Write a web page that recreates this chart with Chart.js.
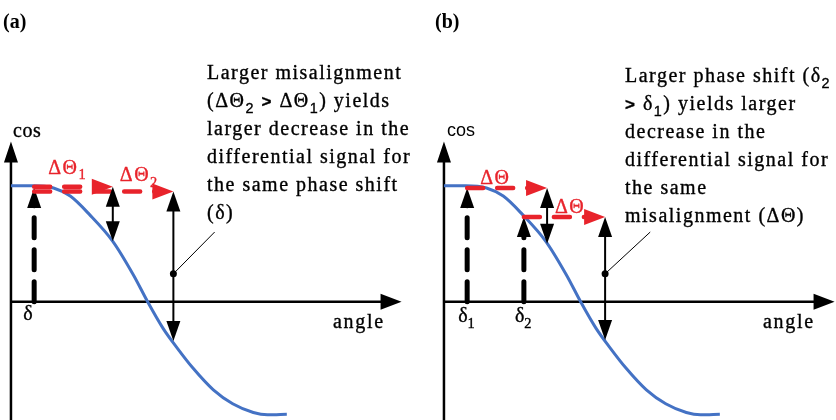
<!DOCTYPE html>
<html lang="en">
<head>
<meta charset="UTF-8">
<title>Phase shift and misalignment</title>
<script src="https://cdn.jsdelivr.net/npm/chart.js"></script>
<style>
    body { margin: 0; background: #fff; width: 836px; height: 420px; position: relative; overflow: hidden; }
    canvas { position: absolute; top: 0; }
    #chartA { left: 0; }
    #chartB { left: 433px; }
</style>
</head>
<body>
<canvas id="chartA" width="433" height="420"></canvas>
<canvas id="chartB" width="403" height="420"></canvas>
<script>
// cosine curve: angle in degrees, signal in cos units
const curveAngle = [0, 17, 33, 46, 61, 79, 95, 106, 118, 129, 141, 157, 172, 188, 199, 214];
const curveCos   = [1.0, 1.0, 0.98, 0.91, 0.75, 0.52, 0.23, 0.0, -0.23, -0.40, -0.57, -0.76, -0.88, -0.955, -0.975, -0.97];

// axis extents
const axisTop = 1.38;
const axisEnd = 303;

// (a) one phase shift, two misalignments
const phaseA = 18;                    // δ
const phaseLevelA = 0.98;
const misalignEndA = [79, 126];       // ends of ΔΘ1, ΔΘ2
const misalignLevelA = [0.99, 0.95];
const signalEndA = [0.52, -0.34];

// (b) two phase shifts, one misalignment
const phaseB = [18, 62];              // δ1, δ2
const phaseLevelB = [0.98, 0.73];
const misalignEndB = [80, 125];
const signalEndB = [0.50, -0.33];

const dotLevel = 0.24;

const RED = '#e8232b', BLUE = '#4472c4', INK = '#000';
const SERIF = '"Liberation Serif", "Times New Roman", serif';
const SANS = '"Liberation Sans", Arial, sans-serif';

function P(chart, x, y) {
    return { x: chart.scales.x.getPixelForValue(x), y: chart.scales.y.getPixelForValue(y) };
}

function tri(ctx, tip, ux, uy, len, half, color) {
    const bx = tip.x - ux * len, by = tip.y - uy * len;
    ctx.beginPath();
    ctx.moveTo(tip.x, tip.y);
    ctx.lineTo(bx - uy * half, by + ux * half);
    ctx.lineTo(bx + uy * half, by - ux * half);
    ctx.closePath();
    ctx.fillStyle = color;
    ctx.fill();
}

function arrow(ctx, a, b, o) {
    const L = Math.hypot(b.x - a.x, b.y - a.y), ux = (b.x - a.x) / L, uy = (b.y - a.y) / L;
    const len = o.len || 20, half = o.half || 7;
    const s = o.both ? len * 0.8 : 0, e = len * 0.8;
    ctx.save();
    ctx.strokeStyle = o.color;
    ctx.lineWidth = o.width;
    ctx.lineCap = o.cap || 'butt';
    ctx.setLineDash(o.dash || []);
    ctx.beginPath();
    ctx.moveTo(a.x + ux * s, a.y + uy * s);
    ctx.lineTo(b.x - ux * e, b.y - uy * e);
    ctx.stroke();
    ctx.restore();
    tri(ctx, b, ux, uy, len, half, o.color);
    if (o.both) tri(ctx, a, -ux, -uy, len, half, o.color);
}

// text made of runs: [text, kind]; kind r = serif, s = sans, sub / ssub = subscripts
function rich(ctx, x, y, parts, size, color, spacing) {
    ctx.save();
    ctx.fillStyle = color || INK;
    ctx.strokeStyle = color || INK;
    ctx.lineWidth = 0.35;
    ctx.textBaseline = 'alphabetic';
    ctx.letterSpacing = (spacing === undefined ? 1.5 : spacing) + 'px';
    for (const [t, k] of parts) {
        let fs = size, dy = 0, fam = SERIF, w = '';
        if (k === 's' || k === 'ssub') fam = SANS;
        if (k === 's') { fs = size * 0.85; w = 'bold '; }
        if (k === 'sub' || k === 'ssub') { fs = size * 0.72; dy = size * 0.28; }
        ctx.font = w + fs + 'px ' + fam;
        ctx.fillText(t, x, y + dy);
        ctx.strokeText(t, x, y + dy);
        x += ctx.measureText(t).width;
    }
    ctx.restore();
}

function paragraph(ctx, x, y, lines) {
    lines.forEach((parts, i) => rich(ctx, x, y + i * 28, parts, 20));
}

function dashedPhase(ctx, chart, x, level) {
    arrow(ctx, P(chart, x, 0), P(chart, x, level),
        { color: INK, width: 5, dash: [20, 12], cap: 'round', len: 20, half: 7 });
}
function redShift(ctx, chart, x1, x2, level) {
    arrow(ctx, P(chart, x1, level), P(chart, x2, level),
        { color: RED, width: 4.5, dash: [16, 14], cap: 'round', len: 21, half: 8 });
}
function signal(ctx, chart, x, top, bottom) {
    arrow(ctx, P(chart, x, top), P(chart, x, bottom),
        { color: INK, width: 2, both: true, len: 20, half: 7 });
}

const axesPlugin = {
    id: 'axes',
    beforeDatasetsDraw(chart) {
        const ctx = chart.ctx;
        arrow(ctx, P(chart, 0, chart.scales.y.min), P(chart, 0, axisTop), { color: INK, width: 2.5, len: 21, half: 7 });
        arrow(ctx, P(chart, 0, 0), P(chart, axisEnd, 0), { color: INK, width: 2.5, len: 21, half: 8 });
    }
};

function leader(ctx, chart, x, y1, x2, y2) {
    const a = P(chart, x, y1), b = P(chart, x2, y2);
    ctx.save();
    ctx.strokeStyle = INK;
    ctx.lineWidth = 1;
    ctx.beginPath(); ctx.moveTo(a.x, a.y); ctx.lineTo(b.x, b.y); ctx.stroke();
    ctx.beginPath(); ctx.arc(a.x, a.y, 3.5, 0, Math.PI * 2); ctx.fillStyle = INK; ctx.fill();
    ctx.restore();
}

const marksA = {
    id: 'marksA',
    afterDatasetsDraw(chart) {
        const ctx = chart.ctx;
        dashedPhase(ctx, chart, phaseA, phaseLevelA);
        redShift(ctx, chart, phaseA, misalignEndA[0], misalignLevelA[0]);
        redShift(ctx, chart, phaseA, misalignEndA[1], misalignLevelA[1]);
        signal(ctx, chart, misalignEndA[0], misalignLevelA[0], signalEndA[0]);
        signal(ctx, chart, misalignEndA[1], misalignLevelA[1], signalEndA[1]);
        leader(ctx, chart, misalignEndA[1], dotLevel, 158, 0.60);

        const l1 = P(chart, phaseA, misalignLevelA[0]);
        rich(ctx, l1.x + 14, l1.y - 13, [['ΔΘ', 'r'], ['1', 'sub']], 20, RED);
        const l2 = P(chart, misalignEndA[0], misalignLevelA[1]);
        rich(ctx, l2.x + 7, l2.y - 10, [['ΔΘ', 'r'], ['2', 'sub']], 20, RED);

        const d = P(chart, phaseA, 0);
        rich(ctx, d.x - 11, 320, [['δ', 'r']], 20, INK, 0);
        rich(ctx, 333, 328, [['angle', 'r']], 20, INK, 1.7);
        rich(ctx, 13, 137, [['cos', 'r']], 20, INK, 0.5);

        ctx.save();
        ctx.font = 'bold 20px ' + SERIF;
        ctx.fillStyle = INK;
        ctx.fillText('(a)', 3, 28);
        ctx.restore();

        paragraph(ctx, 207, 79, [
            [['Larger misalignment', 'r']],
            [['(ΔΘ', 'r'], ['2', 'ssub'], [' ', 'r'], ['>', 's'], [' ΔΘ', 'r'], ['1', 'ssub'], [') yields', 'r']],
            [['larger decrease in the', 'r']],
            [['differential signal for', 'r']],
            [['the same phase shift', 'r']],
            [['(δ)', 'r']]
        ]);
    }
};

// horizontal offset of each ΔΘ label from the start of its arrow
const labelShiftB = [13, 31];

const marksB = {
    id: 'marksB',
    afterDatasetsDraw(chart) {
        const ctx = chart.ctx;
        dashedPhase(ctx, chart, phaseB[0], phaseLevelB[0]);
        dashedPhase(ctx, chart, phaseB[1], phaseLevelB[1]);
        redShift(ctx, chart, phaseB[0], misalignEndB[0], phaseLevelB[0]);
        redShift(ctx, chart, phaseB[1], misalignEndB[1], phaseLevelB[1]);
        signal(ctx, chart, misalignEndB[0], phaseLevelB[0], signalEndB[0]);
        signal(ctx, chart, misalignEndB[1], phaseLevelB[1], signalEndB[1]);
        leader(ctx, chart, misalignEndB[1], dotLevel, 160, 0.60);

        phaseB.forEach((ph, i) => {
            const s = P(chart, ph, phaseLevelB[i]);
            rich(ctx, s.x + labelShiftB[i], s.y - 4, [['ΔΘ', 'r']], 20, RED);
            const d = P(chart, ph, 0);
            rich(ctx, d.x - 9, 322, [['δ', 'r'], [String(i + 1), 'sub']], 20, INK, 0);
        });
        rich(ctx, 330, 328, [['angle', 'r']], 20, INK, 1.7);

        ctx.save();
        ctx.font = '18px ' + SANS;
        ctx.fillStyle = INK;
        ctx.fillText('cos', 14, 136);
        ctx.font = 'bold 20px ' + SERIF;
        ctx.fillText('(b)', 2, 28);
        ctx.restore();

        paragraph(ctx, 192, 82, [
            [['Larger phase shift (δ', 'r'], ['2', 'ssub']],
            [['>', 's'], [' δ', 'r'], ['1', 'ssub'], [') yields larger', 'r']],
            [['decrease in the', 'r']],
            [['differential signal for', 'r']],
            [['the same', 'r']],
            [['misalignment (ΔΘ)', 'r']]
        ]);
    }
};

function makeChart(id, xMax, marks) {
    return new Chart(document.getElementById(id), {
        type: 'scatter',
        data: {
            datasets: [{
                data: curveAngle.map((a, i) => ({ x: a, y: curveCos[i] })),
                showLine: true,
                borderColor: BLUE,
                borderWidth: 3,
                pointRadius: 0,
                cubicInterpolationMode: 'monotone'
            }]
        },
        options: {
            responsive: false,
            animation: false,
            devicePixelRatio: 1,
            layout: { padding: 0 },
            plugins: { legend: { display: false }, tooltip: { enabled: false } },
            scales: {
                x: { type: 'linear', display: false, min: -8.5, max: xMax },
                y: { type: 'linear', display: false, min: -1.02, max: 2.6 }
            }
        },
        plugins: [axesPlugin, marks]
    });
}

makeChart('chartA', 327.4, marksA);
makeChart('chartB', 304.1, marksB);
</script>
</body>
</html>
